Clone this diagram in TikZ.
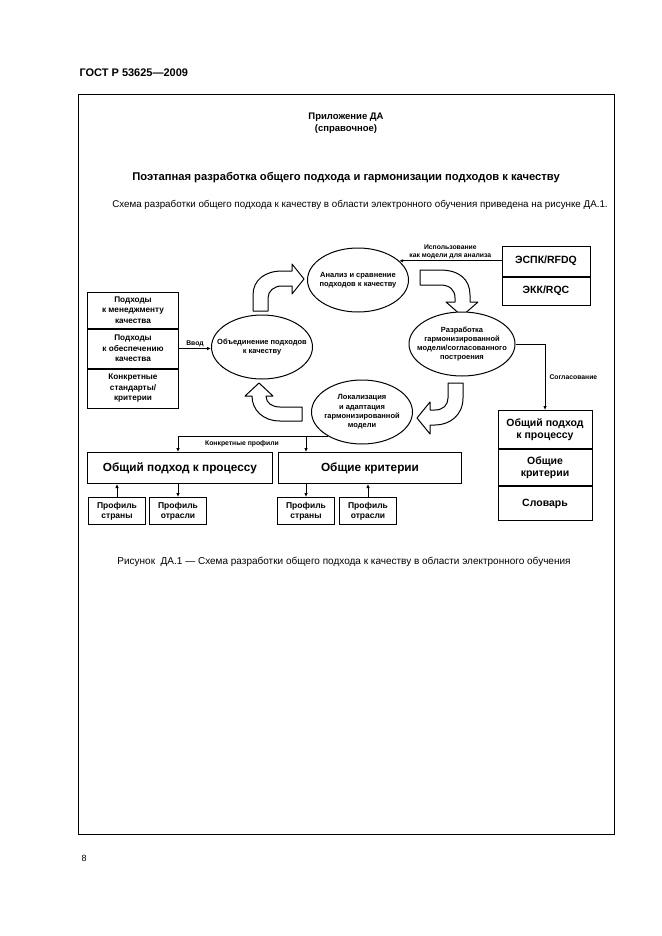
\documentclass[tikz,border=0pt]{standalone}
\usepackage{fontspec}
\setmainfont{Liberation Sans}
\usetikzlibrary{positioning}
\usetikzlibrary{shapes.geometric}
\usetikzlibrary{arrows.meta}
\tikzset{cell/.style={draw, line width=1pt, minimum width=91pt, align=center,
   inner sep=1pt, font=\bfseries\fontsize{8.2}{10.5}\selectfont},
 stage/.style={ellipse, draw, line width=1pt, fill=white, minimum width=101pt,
   minimum height=64pt, align=center, inner ysep=0pt, inner xsep=-10pt,
   font=\bfseries\fontsize{7.5}{9.3}\selectfont},
 bigbox/.style={draw, line width=1pt, align=center, inner sep=1pt,
   font=\bfseries\fontsize{10.5}{12.5}\selectfont},
 profbox/.style={draw, line width=1pt, align=center, inner sep=1pt,
   minimum width=57pt, minimum height=27pt,
   font=\bfseries\fontsize{8.5}{10}\selectfont},
 turn/.style={draw, line width=1pt, fill=white, line join=round},
 conn/.style={line width=1pt, -{Latex[length=4pt,width=3.5pt]}},
 tag/.style={inner sep=1pt, align=center, font=\bfseries\fontsize{6.8}{8.5}\selectfont},
 }

\begin{document}
\begin{tikzpicture}[x=1pt, y=-1pt]
        \useasboundingbox (0,0) rectangle (661,936);
        % page
        \node[anchor=west, font=\bfseries\fontsize{11}{13}\selectfont] (gost) at (76,73) {ГОСТ Р 53625---2009};
        \draw[line width=1pt] (78,95) rectangle (614,834);
        \node[anchor=west, font=\fontsize{9}{11}\selectfont] (pagenum) at (78,858) {8};
        \node[align=center, font=\bfseries\fontsize{9.5}{12.5}\selectfont] (pril) at (346,123) {Приложение ДА\\(справочное)};
        \node[font=\bfseries\fontsize{11.2}{13}\selectfont] (titl) at (346,178) {Поэтапная разработка общего подхода и гармонизации подходов к качеству};
        \node[font=\fontsize{9.8}{11}\selectfont] (intro) at (360,205) {Схема разработки общего подхода к качеству в области электронного обучения приведена на рисунке ДА.1.};
        \node[font=\fontsize{10}{11}\selectfont] (capt) at (344,562) {Рисунок \ ДА.1 --- Схема разработки общего подхода к качеству в области электронного обучения};

        % cycle arrows
        \draw[turn] (253,311) -- (253,295) .. controls (253,280) and (265,271) .. (282,271)
            -- (292,271) -- (292,264) -- (304,279) -- (292,294) -- (292,286) -- (282,286)
            .. controls (274,286) and (268,291) .. (268,298) -- (268,311) -- cycle;
        \draw[turn] (420,270) -- (440,270) .. controls (460,270) and (470,280) .. (470,295)
            -- (470,302) -- (478,302) -- (462,316) -- (446,302) -- (455,302) -- (455,298)
            .. controls (455,290) and (450,285) .. (440,285) -- (420,285) -- cycle;
        \draw[turn] (448,383) -- (463,383) -- (463,398) .. controls (463,415) and (450,425) .. (435,425)
            -- (430,425) -- (430,434) -- (417,418) -- (430,402) -- (430,410) -- (435,410)
            .. controls (443,410) and (448,405) .. (448,398) -- cycle;
        \draw[turn] (302,407) -- (280,407) .. controls (272,407) and (266,403) .. (266,396)
            -- (273,396) -- (259,383) -- (245,396) -- (252,396)
            .. controls (252,410) and (263,421) .. (280,421) -- (302,421) -- cycle;

        % stages
        \node[stage] (anal) at (358,280) {Анализ и сравнение\\подходов к качеству};
        \node[stage, minimum width=106pt] (razr) at (462,344) {Разработка\\гармонизированной\\модели/согласованного\\построения};
        \node[stage] (lokal) at (362,412) {Локализация\\и адаптация\\гармонизированной\\модели};
        \node[stage] (obed) at (262,347) {Объединение подходов\\к качеству};

        % left stack
        \node[cell, minimum height=36pt] (pkm) at (133,310) {Подходы\\к менеджменту\\качества};
        \node[cell, minimum height=39pt, below=0pt of pkm] (pok) {Подходы\\к обеспечению\\качества};
        \node[cell, minimum height=39pt, below=0pt of pok] (kst) {Конкретные\\стандарты/\\критерии};

        % models
        \node[bigbox, minimum width=88pt, minimum height=30pt] (espk) at (546,261) {ЭСПК/RFDQ};
        \node[bigbox, minimum width=88pt, minimum height=28pt, below=0pt of espk] (ekk) {ЭКК/RQC};

        % right stack
        \node[bigbox, minimum width=94pt, minimum height=38pt, anchor=north] (rpod) at (545,410) {Общий подход\\к процессу};
        \node[bigbox, minimum width=94pt, minimum height=36pt, below=0pt of rpod] (rkrit) {Общие\\критерии};
        \node[bigbox, minimum width=94pt, minimum height=34pt, below=0pt of rkrit] (rslov) {Словарь};

        % bottom
        \node[bigbox, minimum width=185pt, minimum height=31pt, font=\bfseries\fontsize{11.8}{13}\selectfont] (opod) at (180,468) {Общий подход к процессу};
        \node[bigbox, minimum width=183pt, minimum height=31pt, font=\bfseries\fontsize{11.8}{13}\selectfont, right=5pt of opod] (okrit) {Общие критерии};
        \node[profbox] (ps1) at (117,511) {Профиль\\страны};
        \node[profbox] (po1) at (178,511) {Профиль\\отрасли};
        \node[profbox] (ps2) at (306,511) {Профиль\\страны};
        \node[profbox] (po2) at (368,511) {Профиль\\отрасли};

        % connectors
        \draw[conn] (pok.east) -- node[tag, above] {Ввод} (pok.east -| obed.west);
        \draw[conn] (espk.west |- anal.25) -- node[tag, above] {Использование\\как модели для анализа} (anal.25);
        \draw[conn] (razr.east) -| node[tag, pos=0.75, right=3pt] {Согласование} (rpod.north);
        \coordinate (kpl) at (po1.north |- lokal.215);
        \draw[line width=1pt] (lokal.215) -- (kpl);
        \node[tag, anchor=north] (kplab) at (242,439) {Конкретные профили};
        \draw[conn] (kpl) -- (kpl |- opod.north);
        \draw[conn] (ps2.north |- lokal.215) -- (ps2.north |- okrit.north);
        \draw[conn] (ps1.north) -- (ps1.north |- opod.south);
        \draw[conn] (po1.north |- opod.south) -- (po1.north);
        \draw[conn] (ps2.north |- okrit.south) -- (ps2.north);
        \draw[conn] (po2.north) -- (po2.north |- okrit.south);
    \end{tikzpicture}
\end{document}
